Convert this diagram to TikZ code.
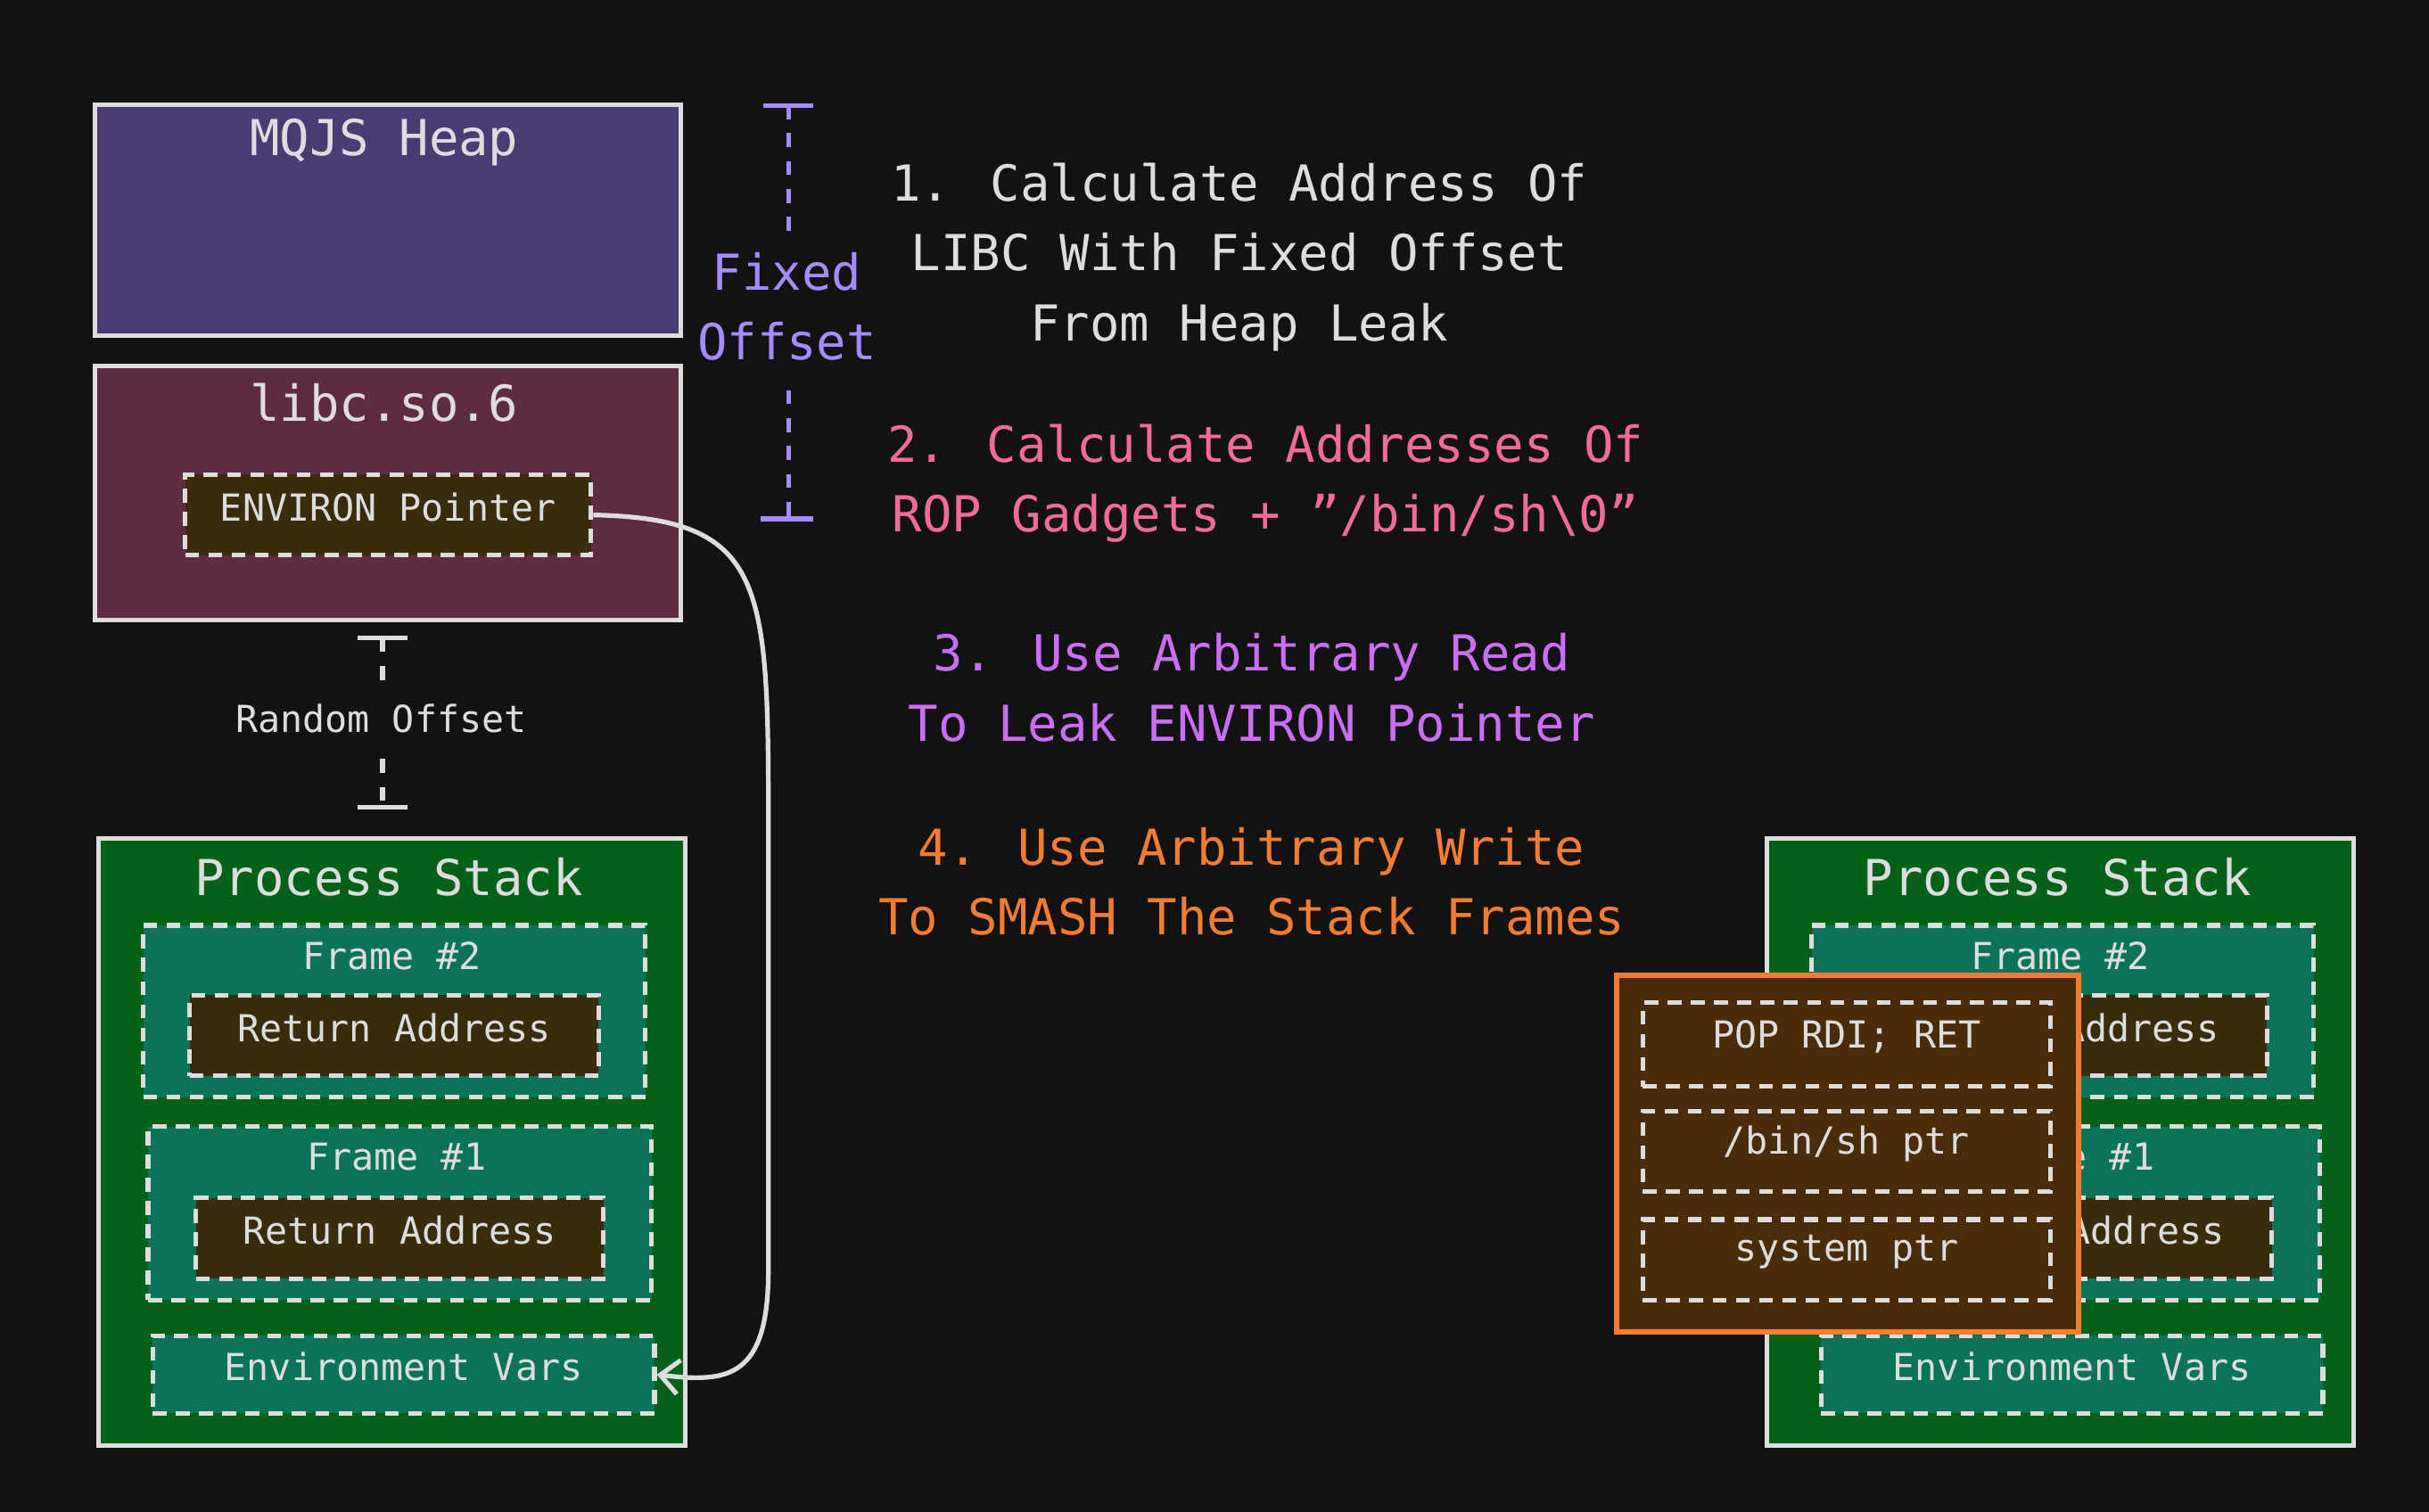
\documentclass[tikz,border=0pt]{standalone}
\usepackage{fontspec}
\setmainfont{DejaVu Sans Mono}
\usetikzlibrary{arrows.meta}
\definecolor{bg}{HTML}{121212}
\definecolor{edge}{HTML}{DDDDDD}
\definecolor{heap}{HTML}{4A3B72}
\definecolor{libc}{HTML}{5E2C42}
\definecolor{ptr}{HTML}{3A2C0A}
\definecolor{stk}{HTML}{066118}
\definecolor{frm}{HTML}{0B7358}
\definecolor{ra}{HTML}{3A2C0A}
\definecolor{rop}{HTML}{4A2C08}
\definecolor{fixc}{HTML}{A68BFF}
\definecolor{pinkc}{HTML}{F06A9A}
\definecolor{violc}{HTML}{CC6EF5}
\definecolor{orc}{HTML}{F27D32}
\definecolor{ropf}{HTML}{4A2A08}
\tikzset{
  box/.style={draw=edge, line width=3pt, anchor=north west, inner sep=0pt},
  dbox/.style={draw=edge, line width=3pt, dash pattern=on 9pt off 6pt, anchor=north west, inner sep=0pt},
  ttl/.style={text=edge, font=\fontsize{32}{36}\selectfont},
  lbl/.style={text=edge, font=\fontsize{24}{28}\selectfont, yshift=5pt},
  stp/.style={font=\fontsize{32}{45}\selectfont, align=center},
  offs/.style={line width=3pt, dash pattern=on 9pt off 9pt},
}
\begin{document}
\begin{tikzpicture}[x=1pt,y=-1pt]
\fill[bg] (0,0) rectangle (1568,976);
\useasboundingbox (0,0) rectangle (1568,976);
% heap
\node[box, fill=heap, minimum width=378pt, minimum height=149pt] (heap) at (60,66) {};
\node[ttl] (heapt) at (248,92) {MQJS Heap};
\node[box, fill=libc, minimum width=378pt, minimum height=164pt] (libc) at (60,235) {};
\node[ttl] (libct) at (248,260) {libc.so.6};
\node[dbox, fill=ptr, minimum width=262pt, minimum height=52pt] (envp) at (118,305) {};
\node[lbl] at (envp.center) {ENVIRON Pointer};
% random offset
\coordinate (r1) at (247,412); \coordinate (r2) at (247,521);
\draw[edge, line width=3pt] (231,412) -- (263,412) (231,521) -- (263,521);
\draw[edge, offs] (r1) -- (247,440) (247,490) -- (r2);
\node[lbl, yshift=-5pt] (rnd) at (246,464) {Random Offset};
% fixed offset
\draw[fixc, line width=3pt] (493,68) -- (525,68) (491,335) -- (525,335);
\draw[fixc, offs] (509,68) -- (509,150) (509,252) -- (509,335);
\node[stp, text=fixc] (fix) at (508,198) {Fixed\\Offset};
% steps
\node[stp, text=edge] (s1) at (800,166) {1. Calculate Address Of\\LIBC With Fixed Offset\\From Heap Leak};
\node[stp, text=pinkc] (s2) at (817,312) {2. Calculate Addresses Of\\ROP Gadgets + \symbol{34}/bin/sh\textbackslash 0\symbol{34}};
\node[stp, text=violc] (s3) at (808,444) {3. Use Arbitrary Read\\To Leak ENVIRON Pointer};
\node[stp, text=orc] (s4) at (808,569) {4. Use Arbitrary Write\\To SMASH The Stack Frames};
% stacks
\foreach \dx/\n in {0/L,1077/R} {
  \begin{scope}[xshift=\dx pt]
  \node[box, fill=stk, minimum width=379pt, minimum height=392pt] (stk\n) at (62,540) {};
  \node[ttl] at (251,566) {Process Stack};
  \node[dbox, fill=frm, minimum width=324pt, minimum height=111pt] (f2\n) at (91,596) {};
  \node[lbl, yshift=-5pt] at (253,617) {Frame \#2};
  \node[dbox, fill=ra, minimum width=264pt, minimum height=52pt] (ra2\n) at (121,641) {};
  \node[lbl] at (ra2\n.center) {Return Address};
  \node[dbox, fill=frm, minimum width=325pt, minimum height=112pt] (f1\n) at (94,726) {};
  \node[lbl, yshift=-5pt] at (256,747) {Frame \#1};
  \node[dbox, fill=ra, minimum width=263pt, minimum height=52pt] (ra1\n) at (125,772) {};
  \node[lbl] at (ra1\n.center) {Return Address};
  \node[dbox, fill=frm, minimum width=324pt, minimum height=50pt] (ev\n) at (97,861) {};
  \node[lbl] at (ev\n.center) {Environment Vars};
  \end{scope}
}
% ROP overlay
\node[draw=orc, line width=3.5pt, fill=ropf, anchor=north west, minimum width=298pt, minimum height=230pt, inner sep=0pt] (rop) at (1042,628) {};
\node[dbox, fill=rop, minimum width=263pt, minimum height=54pt] (g1) at (1059,646) {};
\node[lbl] at (g1.center) {POP RDI; RET};
\node[dbox, fill=rop, minimum width=263pt, minimum height=52pt] (g2) at (1059,716) {};
\node[lbl] at (g2.center) {/bin/sh ptr};
\node[dbox, fill=rop, minimum width=263pt, minimum height=52pt] (g3) at (1059,786) {};
\node[lbl] at (g3.center) {system ptr};
% arrow
\draw[edge, line width=3pt, -{Straight Barb[length=12pt,width=22pt]}] (envp.east) .. controls (500,335) and (496,380) .. (496,560) -- (496,820) .. controls (496,890) and (470,893) .. (evL.east);
\end{tikzpicture}
\end{document}
